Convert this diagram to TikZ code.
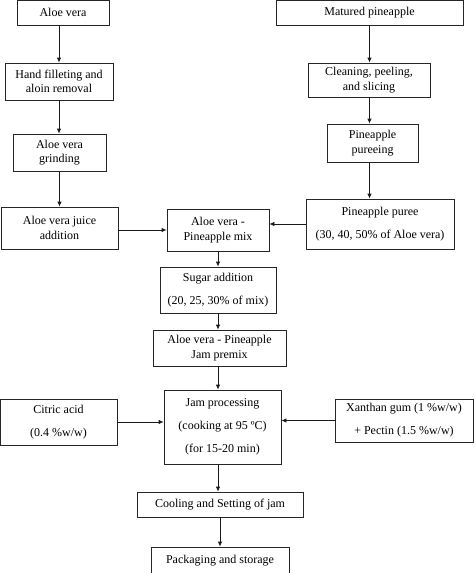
\documentclass[tikz,border=0pt]{standalone}
\usepackage{fontspec}
\setmainfont{Liberation Serif}
\usetikzlibrary{arrows.meta}
\tikzset{
  box/.style={draw=black!85, line width=0.8pt, inner sep=0pt, align=center,
    font=\fontsize{12}{14.5}\selectfont, text=black},
  arr/.style={draw=black!70, line width=0.8pt, -{Latex[length=5pt,width=4.5pt]}, black!90},
}
\newcommand{\gap}{\\[8.5pt]}
\begin{document}
\begin{tikzpicture}[x=1pt,y=-1pt]
\useasboundingbox (0,0) rectangle (474,573);
\clip (0,0) rectangle (474,573);
% left column
\node[box, minimum width=92pt, minimum height=25pt] (aloe) at (63,12.5) {Aloe vera};
\node[box, minimum width=108pt, minimum height=37pt] (hand) at (59,81.5) {Hand filleting and\\aloin removal};
\node[box, minimum width=93pt, minimum height=37pt] (grind) at (59.5,152.5) {Aloe vera\\grinding};
\node[box, minimum width=117pt, minimum height=42pt] (juice) at (59.5,228) {Aloe vera juice\\addition};
% right column
\node[box, minimum width=187pt, minimum height=25pt] (matured) at (369.5,12.5) {Matured pineapple};
\node[box, minimum width=122pt, minimum height=34pt] (clean) at (369,80) {Cleaning, peeling,\\and slicing};
\node[box, minimum width=91pt, minimum height=38pt] (pureeing) at (372.5,143) {Pineapple\\pureeing};
\node[box, minimum width=148pt, minimum height=50pt] (puree) at (380,224) {Pineapple puree\gap(30, 40, 50\% of Aloe vera)};
% centre column
\node[box, minimum width=102pt, minimum height=42pt] (mix) at (218,230) {Aloe vera -\\Pineapple mix};
\node[box, minimum width=116pt, minimum height=46pt] (sugar) at (218,290) {Sugar addition\gap(20, 25, 30\% of mix)};
\node[box, minimum width=133pt, minimum height=36pt] (premix) at (219.5,348) {Aloe vera - Pineapple\\Jam premix};
\node[box, minimum width=117pt, minimum height=74pt] (jam) at (222.5,427) {Jam processing\gap(cooking at 95 ºC)\gap(for 15-20 min)};
\node[box, minimum width=117pt, minimum height=46pt] (citric) at (58.5,422) {Citric acid\gap(0.4 \%w/w)};
\node[box, minimum width=138pt, minimum height=43pt] (xan) at (404,420.5) {Xanthan gum (1 \%w/w)\gap+ Pectin (1.5 \%w/w)};
\node[box, minimum width=166pt, minimum height=25pt] (cool) at (220,504.5) {Cooling and Setting of jam};
\node[box, minimum width=138pt, minimum height=27pt] (pack) at (220,560.5) {Packaging and storage};
% connectors
\draw[arr] (hand.north |- aloe.south) -- (hand.north);
\draw[arr] (hand.south) -- (hand.south |- grind.north);
\draw[arr] (grind.south) -- (grind.south |- juice.north);
\draw[arr] (matured.south) -- (matured.south |- clean.north);
\draw[arr] (matured.south |- clean.south) -- (matured.south |- pureeing.north);
\draw[arr] (matured.south |- pureeing.south) -- (matured.south |- puree.north);
\draw[arr] (juice.east |- mix.west) -- (mix.west);
\draw[arr] (puree.west) -- (puree.west -| mix.east);
\draw[arr] (mix.south) -- (sugar.north);
\draw[arr] (sugar.south) -- (sugar.south |- premix.north);
\draw[arr] (sugar.south |- premix.south) -- (sugar.south |- jam.north);
\draw[arr] (citric.east) -- (citric.east -| jam.west);
\draw[arr] (xan.west) -- (xan.west -| jam.east);
\draw[arr] (sugar.south |- jam.south) -- (sugar.south |- cool.north);
\draw[arr] (cool.south) -- (pack.north);
\end{tikzpicture}
\end{document}
